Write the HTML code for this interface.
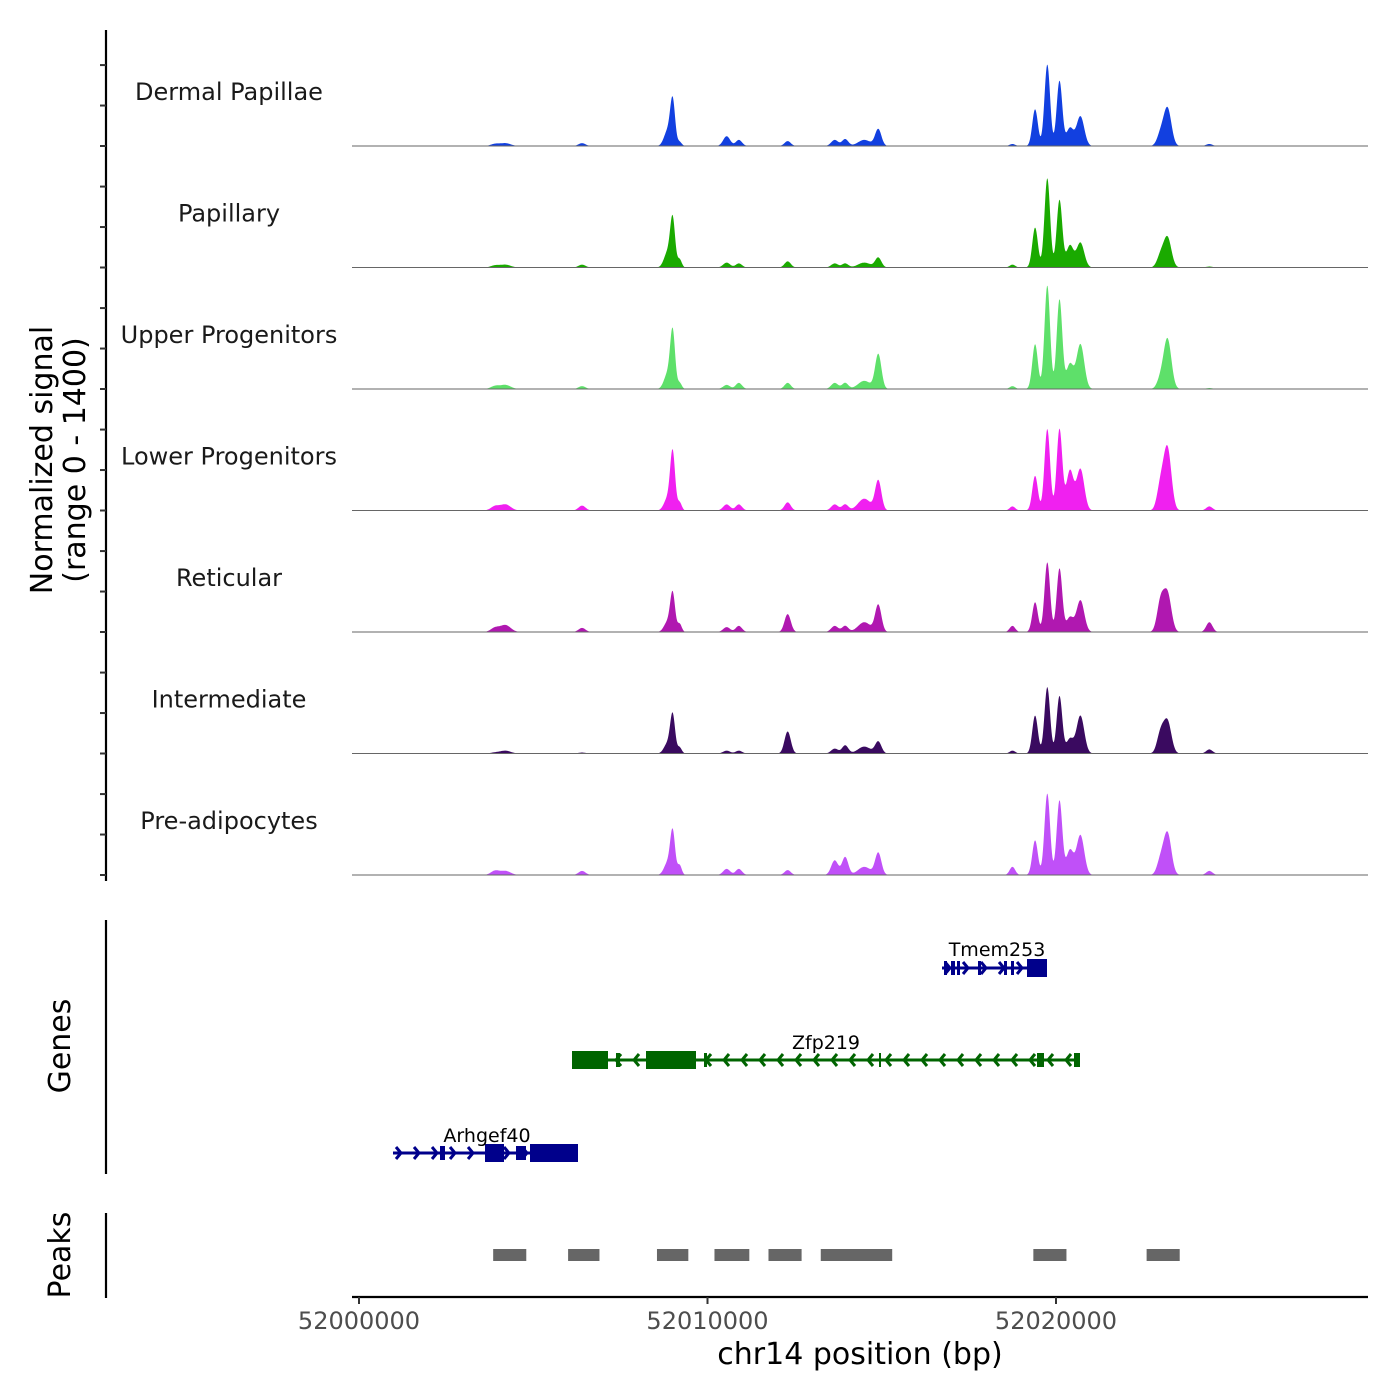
<!DOCTYPE html>
<html><head><meta charset="utf-8"><style>
body{margin:0;background:#fff}
svg{display:block;font-family:"DejaVu Sans","Liberation Sans",sans-serif}
</style></head><body>
<svg id="c" width="1400" height="1400" xmlns="http://www.w3.org/2000/svg">
<rect width="1400" height="1400" fill="#fff"/>
<g id="tracks"></g>
<g id="axes" stroke="#000" stroke-width="2.2">
<line x1="106" y1="30" x2="106" y2="881"/>
<line x1="106" y1="920" x2="106" y2="1174"/>
<line x1="106" y1="1213" x2="106" y2="1298"/>
<line x1="352" y1="1297" x2="1368" y2="1297"/>
</g>
<g id="yticks" stroke="#333" stroke-width="2"></g>
<g id="xticks"></g>
<text x="52" y="460" font-size="30" text-anchor="middle" transform="rotate(-90 52 460)">Normalized signal</text>
<text x="85" y="460" font-size="30" text-anchor="middle" transform="rotate(-90 85 460)">(range 0 - 1400)</text>
<text x="70" y="1046" font-size="30" text-anchor="middle" transform="rotate(-90 70 1046)">Genes</text>
<text x="70" y="1255" font-size="30" text-anchor="middle" transform="rotate(-90 70 1255)">Peaks</text>
<text x="860" y="1364" font-size="30" text-anchor="middle">chr14 position (bp)</text>
<g id="genes"></g>
<g id="peaks"></g>
</svg>
<script>
const NS="http://www.w3.org/2000/svg";
const trackNames=["Dermal Papillae","Papillary","Upper Progenitors","Lower Progenitors","Reticular","Intermediate","Pre-adipocytes"];
const trackColors=["#1240e0","#1aaa00","#5ee06a","#f020f0","#b018b0","#3a0a60","#c050f8"];
// peak centers in kb offset from 52000000, widths (kb)
const peakCenters=[4.2,6.4,9.0,8.85,9.2,10.55,10.9,12.3,13.65,13.95,14.5,14.9,19.4,19.75,20.1,20.4,20.7,23.0,23.2,24.4,18.75,3.9];
const peakWidths=[0.15,0.1,0.07,0.1,0.06,0.1,0.09,0.09,0.1,0.09,0.18,0.09,0.08,0.08,0.08,0.1,0.11,0.1,0.11,0.09,0.08,0.12];
// heights in signal units (0-1400)
const sigDP=[35,35,550,180,50,120,75,60,75,85,75,205,450,1000,800,220,365,145,460,25,25,25];
const sigPap=[35,35,585,180,100,60,50,75,50,50,60,120,490,1095,830,270,305,145,365,12,35,25];
const sigUpper=[50,35,695,180,75,50,75,75,75,75,100,425,550,1270,1100,305,550,120,610,12,35,35];
const sigLower=[75,60,705,145,100,75,75,100,75,75,145,365,425,1000,1000,490,510,305,755,50,50,50];
const sigRet=[85,50,465,120,100,60,75,220,75,75,120,330,365,855,780,180,390,365,465,120,75,50];
const sigInt=[35,12,465,120,75,35,35,270,60,100,85,145,465,815,705,180,465,245,390,50,35,12];
const sigPre=[50,50,525,145,120,75,75,60,180,220,100,270,425,1000,915,305,490,180,510,50,100,50];
const trackSignals=[sigDP,sigPap,sigUpper,sigLower,sigRet,sigInt,sigPre];
const yTickVals=[0,700,1400];

const X0=52000000, pxPerKb=34.85, xOrigin=359;
const xScale=bp=>xOrigin+(bp-X0)/1000*pxPerKb;
const kbScale=kb=>xOrigin+kb*pxPerKb;
const baseY=i=>146+i*121.5;
const yUnit=0.0815;
const xL=352,xR=1368;

const tracks=document.getElementById('tracks');
trackSignals.forEach((sig,i)=>{
  const b=baseY(i);
  let d="M"+xL+","+b;
  for(let x=xL;x<=xR;x+=0.5){
    const kb=(x-xOrigin)/pxPerKb;
    let v=0;
    for(let k=0;k<peakCenters.length;k++){
      const z=(kb-peakCenters[k])/peakWidths[k];
      if(Math.abs(z)<5) v+=sig[k]*Math.exp(-0.5*z*z);
    }
    d+=" L"+x.toFixed(1)+","+(b-v*yUnit).toFixed(1);
  }
  d+=" L"+xR+","+b+" Z";
  const p=document.createElementNS(NS,'path');
  p.setAttribute('d',d);p.setAttribute('fill',trackColors[i]);
  
  
  tracks.appendChild(p);
  const l=document.createElementNS(NS,'line');
  l.setAttribute('x1',xL);l.setAttribute('x2',xR);l.setAttribute('y1',b);l.setAttribute('y2',b);
  l.setAttribute('stroke','#666');l.setAttribute('stroke-width','1');
  
  
  tracks.appendChild(l);
  const t=document.createElementNS(NS,'text');
  t.setAttribute('x',229);t.setAttribute('y',b-46);t.setAttribute('font-size','24');
  t.setAttribute('text-anchor','middle');t.setAttribute('fill','#1a1a1a');
  t.textContent=trackNames[i];
  
  
  tracks.appendChild(t);
});
// y ticks
const yt=document.getElementById('yticks');
for(let i=0;i<7;i++){
  yTickVals.forEach(v=>{
    const y=baseY(i)-v*0.0578;
    const l=document.createElementNS(NS,'line');
    l.setAttribute('x1',100);l.setAttribute('x2',106);l.setAttribute('y1',y);l.setAttribute('y2',y);
    
    
    yt.appendChild(l);
  });
}
// x ticks
const xTicks=[52000000,52010000,52020000];
const xt=document.getElementById('xticks');
xTicks.forEach(v=>{
  const x=xScale(v);
  const l=document.createElementNS(NS,'line');
  l.setAttribute('x1',x);l.setAttribute('x2',x);l.setAttribute('y1',1297);l.setAttribute('y2',1304);
  l.setAttribute('stroke','#333');l.setAttribute('stroke-width','2');
  
  
  xt.appendChild(l);
  const t=document.createElementNS(NS,'text');
  t.setAttribute('x',x);t.setAttribute('y',1329);t.setAttribute('font-size','24');
  t.setAttribute('text-anchor','middle');t.setAttribute('fill','#4d4d4d');
  t.textContent=String(v);
  
  
  xt.appendChild(t);
});
// peaks (kb start,end)
const peakStarts=[3.85,6.0,8.55,10.2,11.75,13.25,19.35,22.6];
const peakEnds=[4.8,6.9,9.45,11.2,12.7,15.3,20.3,23.55];
const pk=document.getElementById('peaks');
peakStarts.forEach((s,i)=>{
  const r=document.createElementNS(NS,'rect');
  const x1=kbScale(s),x2=kbScale(peakEnds[i]);
  r.setAttribute('x',x1);r.setAttribute('y',1249);r.setAttribute('width',x2-x1);r.setAttribute('height',12);
  r.setAttribute('fill','#666');
  
  
  pk.appendChild(r);
});
const genes=[
 ["Tmem253",968,"#00008b",942,1047,1,[[944,947,0],[951,955,0],[957,960,0],[978,981,0],[1004,1007,0],[1011,1014,0],[1027,1047,1]],997,956],
 ["Zfp219",1060,"#006400",572,1080,-1,[[572,608,1],[616,620,0],[646,696,1],[704,707,0],[879,881,0],[1037,1044,0],[1074,1080,0]],826,1049],
 ["Arhgef40",1153,"#00008b",393,578,1,[[440,445,0],[485,504,1],[516,526,0],[530,578,1]],487,1142]
];
const gg=document.getElementById('genes');
genes.forEach(g=>{
  const [name,y,col,s,e,str,exons,lx,ly]=g;
  const grp=document.createElementNS(NS,'g');
  
  
  let h='<line x1="'+s+'" x2="'+e+'" y1="'+y+'" y2="'+y+'" stroke="'+col+'" stroke-width="3"/>';
  for(let x=s+8;x<e-4;x+=18){
    const a=str>0?-5:5;
    h+='<polyline points="'+(x+a)+','+(y-6)+' '+x+','+y+' '+(x+a)+','+(y+6)+'" fill="none" stroke="'+col+'" stroke-width="3"/>';
  }
  exons.forEach(ex=>{
    const hh=ex[2]?9:7;
    h+='<rect x="'+ex[0]+'" y="'+(y-hh)+'" width="'+(ex[1]-ex[0])+'" height="'+(2*hh)+'" fill="'+col+'"/>';
  });
  h+='<text x="'+lx+'" y="'+ly+'" font-size="19" text-anchor="middle" fill="#000">'+name+'</text>';
  grp.innerHTML=h;
  gg.appendChild(grp);
});
</script>
</body></html>
